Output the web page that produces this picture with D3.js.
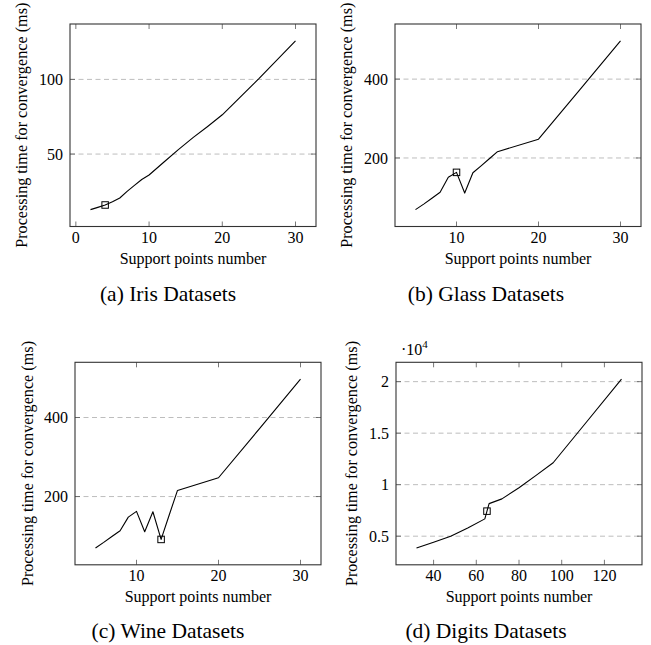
<!DOCTYPE html>
<html>
<head>
<meta charset="utf-8">
<script src="https://cdn.jsdelivr.net/npm/d3@7"></script>
<style>
  body { margin: 0; background: #fff; }
  svg text { font-family: "Liberation Serif", Tinos, "Times New Roman", Times, "DejaVu Serif", serif; fill: #000; }
</style>
</head>
<body>
<svg id="chart" width="651" height="645" font-family="Liberation Serif, Tinos, Times New Roman, DejaVu Serif, serif"></svg>
<script>
// values
const irisX = [2, 3, 4, 5, 6, 7, 8, 9, 10, 12, 14, 16, 18, 20, 25, 30];
const irisY = [12.8, 14.3, 15.9, 18, 20.6, 25, 29, 33, 36, 44.5, 53, 61, 68.5, 76.3, 100.5, 125.8];
const irisPick = 4;

const glassX = [5, 6, 7, 8, 9, 10, 11, 12, 13, 14, 15, 20, 25, 30];
const glassY = [69, 83, 98, 113, 151, 163.5, 111, 162.5, 180, 198, 216, 247.6, 372, 497];
const glassPick = 10;

const wineX = [5, 6, 7, 8, 9, 10, 11, 12, 13, 14, 15, 20, 25, 30];
const wineY = [70, 84, 99, 113.6, 148, 162.5, 111, 161.5, 91.5, 154, 215.5, 247.6, 372, 497];
const winePick = 13;

const digitsX = [32, 40, 48, 56, 64, 65, 66, 72, 80, 88, 96, 112, 128];
const digitsY = [0.386, 0.442, 0.5, 0.58, 0.668, 0.743, 0.816, 0.862, 0.97, 1.09, 1.213, 1.618, 2.024];
const digitsPick = 65;

const irisXTicks = [0, 10, 20, 30];
const irisYTicks = [50, 100];
const glassXTicks = [10, 20, 30];
const glassYTicks = [200, 400];
const wineXTicks = [10, 20, 30];
const wineYTicks = [200, 400];
const digitsXTicks = [40, 60, 80, 100, 120];
const digitsYTicks = [0.5, 1, 1.5, 2];

const captions = ["(a) Iris Datasets", "(b) Glass Datasets", "(c) Wine Datasets", "(d) Digits Datasets"];
const xLabel = "Support points number";
const yLabel = "Processing time for convergence (ms)";

const frameW = 246;
const frameH = 202.5;

const panels = [
  { xs: irisX, ys: irisY, pick: irisPick, xt: irisXTicks, yt: irisYTicks, left: 70, top: 24, ylabX: 21, capX: 168, capY: 301 },
  { xs: glassX, ys: glassY, pick: glassPick, xt: glassXTicks, yt: glassYTicks, left: 395, top: 24, ylabX: 346, capX: 486, capY: 301 },
  { xs: wineX, ys: wineY, pick: winePick, xt: wineXTicks, yt: wineYTicks, left: 75, top: 362.3, ylabX: 27.5, capX: 168, capY: 638 },
  { xs: digitsX, ys: digitsY, pick: digitsPick, xt: digitsXTicks, yt: digitsYTicks, left: 396, top: 362.3, ylabX: 351.5, capX: 486, capY: 638, exp: true }
];

const svg = d3.select("#chart");

// pgfplots style: enlarge the data range by 10% on each side
function padded(vals) {
  const [lo, hi] = d3.extent(vals);
  const pad = (hi - lo) * 0.1;
  return [lo - pad, hi + pad];
}

panels.forEach(function (p, i) {
  const x = d3.scaleLinear().domain(padded(p.xs)).range([p.left, p.left + frameW]);
  const y = d3.scaleLinear().domain(padded(p.ys)).range([p.top + frameH, p.top]);
  const g = svg.append("g");
  const bottom = p.top + frameH;
  const right = p.left + frameW;

  // dashed grid on y ticks
  g.selectAll(".grid").data(p.yt).join("line")
    .attr("x1", p.left).attr("x2", right)
    .attr("y1", d => y(d)).attr("y2", d => y(d))
    .attr("stroke", "#bdbdbd").attr("stroke-width", 1)
    .attr("stroke-dasharray", "5,3.5");

  // inward ticks on all four sides
  const tk = 5;
  g.selectAll(".xtb").data(p.xt).join("line")
    .attr("x1", d => x(d)).attr("x2", d => x(d))
    .attr("y1", bottom).attr("y2", bottom - tk)
    .attr("stroke", "#555").attr("stroke-width", 0.8);
  g.selectAll(".xtt").data(p.xt).join("line")
    .attr("x1", d => x(d)).attr("x2", d => x(d))
    .attr("y1", p.top).attr("y2", p.top + tk)
    .attr("stroke", "#555").attr("stroke-width", 0.8);
  g.selectAll(".ytl").data(p.yt).join("line")
    .attr("x1", p.left).attr("x2", p.left + tk)
    .attr("y1", d => y(d)).attr("y2", d => y(d))
    .attr("stroke", "#555").attr("stroke-width", 0.8);
  g.selectAll(".ytr").data(p.yt).join("line")
    .attr("x1", right).attr("x2", right - tk)
    .attr("y1", d => y(d)).attr("y2", d => y(d))
    .attr("stroke", "#555").attr("stroke-width", 0.8);

  // frame
  g.append("rect")
    .attr("x", p.left).attr("y", p.top)
    .attr("width", frameW).attr("height", frameH)
    .attr("fill", "none").attr("stroke", "#333").attr("stroke-width", 1.1);

  // tick labels
  g.selectAll(".xl").data(p.xt).join("text")
    .attr("x", d => x(d)).attr("y", bottom + 16.5)
    .attr("text-anchor", "middle").attr("font-size", 16)
    .text(d => String(d));
  g.selectAll(".yl").data(p.yt).join("text")
    .attr("x", p.left - 7).attr("y", d => y(d)).attr("dy", "0.35em")
    .attr("text-anchor", "end").attr("font-size", 16)
    .text(d => String(d));

  // data line
  const pts = p.xs.map((v, k) => [v, p.ys[k]]);
  g.append("path")
    .attr("d", d3.line().x(d => x(d[0])).y(d => y(d[1]))(pts))
    .attr("fill", "none").attr("stroke", "#000").attr("stroke-width", 1.1)
    .attr("stroke-linejoin", "round");

  // the marked point
  const m = pts.find(d => d[0] === p.pick);
  const ms = 6.5;
  g.append("rect")
    .attr("x", x(m[0]) - ms / 2).attr("y", y(m[1]) - ms / 2)
    .attr("width", ms).attr("height", ms)
    .attr("fill", "none").attr("stroke", "#000").attr("stroke-width", 1);

  // axis labels
  g.append("text")
    .attr("x", p.left + frameW / 2).attr("y", bottom + 37.5)
    .attr("text-anchor", "middle").attr("font-size", 16)
    .text(xLabel);
  g.append("text")
    .attr("transform", "translate(" + p.ylabX + "," + (p.top + frameH / 2) + ") rotate(-90)")
    .attr("dy", "0.35em")
    .attr("text-anchor", "middle").attr("font-size", 16.2)
    .text(yLabel);

  if (p.exp) {
    const t = g.append("text")
      .attr("x", p.left + 5).attr("y", p.top - 7.5)
      .attr("font-size", 16);
    t.append("tspan").text("·10");
    t.append("tspan").attr("font-size", 11).attr("dy", -6.5).text("4");
  }

  // sub caption
  svg.append("text")
    .attr("x", p.capX).attr("y", p.capY)
    .attr("text-anchor", "middle").attr("font-size", 21.5)
    .text(captions[i]);
});
</script>
</body>
</html>
